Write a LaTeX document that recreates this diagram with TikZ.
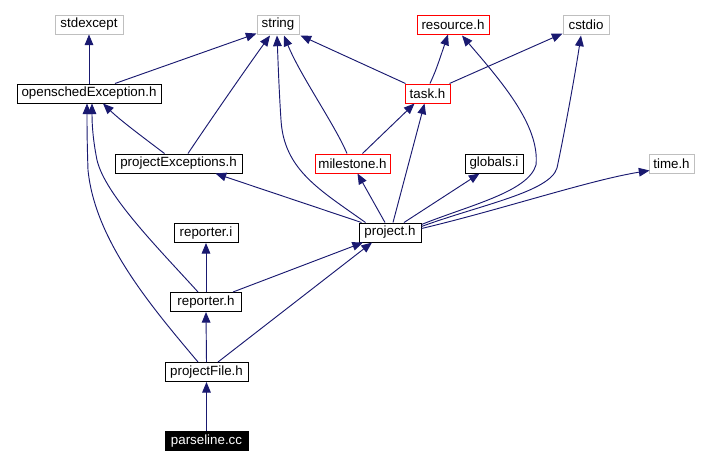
\documentclass[tikz,border=0pt]{standalone}
\usepackage{fontspec}
\setmainfont{Liberation Sans}
\usetikzlibrary{arrows.meta,calc}
\definecolor{edgeblue}{RGB}{25,25,112}
\definecolor{boxgray}{RGB}{191,191,191}
\definecolor{boxred}{RGB}{255,0,0}
\begin{document}
\begin{tikzpicture}[x=0.75pt,y=-0.75pt,
  hdr/.style={draw=black, line width=0.75pt, inner sep=0pt, minimum height=14.25pt,
    minimum width=#1*0.75pt, font=\fontsize{10}{12}\selectfont},
  sysbox/.style={hdr=#1, draw=boxgray},
  redbox/.style={hdr=#1, draw=boxred},
  rootbox/.style={hdr=#1, fill=black, text=white},
  dep/.style={draw=edgeblue, line width=0.7pt, -{Triangle[length=8pt,width=6.5pt]}, fill=none}]
\useasboundingbox (0,0) rectangle (708,465);
% nodes
\node[sysbox=68] (stdexcept) at (89,24.5) {stdexcept};
\node[sysbox=42] (string) at (278,24.5) {string};
\node[redbox=72] (resource) at (453,24.5) {resource.h};
\node[sysbox=46] (cstdio) at (586,24.5) {cstdio};
\node[hdr=144] (osE) at (89,93.5) {openschedException.h};
\node[redbox=45] (task) at (427.5,93.5) {task.h};
\node[hdr=127] (pExc) at (178.5,163.5) {projectExceptions.h};
\node[redbox=75] (milestone) at (352.5,163.5) {milestone.h};
\node[hdr=58] (globals) at (494,163.5) {globals.i};
\node[sysbox=45] (time) at (671.5,163.5) {time.h};
\node[hdr=62] (project) at (390,232.5) {project.h};
\node[hdr=64] (reporteri) at (206,233) {reporter.i};
\node[hdr=71] (reporterh) at (206,302) {reporter.h};
\node[hdr=83] (pFile) at (206.5,372) {projectFile.h};
\node[rootbox=83] (parseline) at (206.5,441) {parseline.cc};
% edges
\draw[dep] (osE.north) -- (stdexcept.south);
\draw[dep] ($(osE.north)+(26,0)$) -- ($(string.south west)+(0,-1)$);
\draw[dep] ($(task.north west)+(1,0)$) -- ($(string.south east)+(1,1)$);
\draw[dep] ($(task.north)+(2.5,0)$) .. controls (436,70) .. ($(resource.south)+(-5,0)$);
\draw[dep] ($(task.north east)+(-1,0)$) -- ($(cstdio.south west)+(0,-1)$);
\draw[dep] ($(pExc.north west)+(50,0)$) .. controls (140,135) and (120,120) .. ($(osE.south)+(14,0)$);
\draw[dep] ($(pExc.north)+(9.5,0)$) .. controls (205,128) and (245,70) .. ($(string.south)+(-8,1)$);
\draw[dep] ($(milestone.north)+(-5.5,0)$) .. controls (335,125) and (300,75) .. ($(string.south)+(6,1)$);
\draw[dep] ($(milestone.north)+(10,0)$) -- ($(task.south)+(-13,0)$);
\draw[dep] ($(project.north)+(3,0)$) -- ($(task.south)+(-3,0)$);
\draw[dep] ($(project.north)+(-5,0)$) -- ($(milestone.south)+(5,0)$);
\draw[dep] ($(project.north west)+(7,0)$) .. controls (320,190) and (284,170) .. (281,120) .. controls (279,90) and (278,60) .. ($(string.south)+(-1,1)$);
\draw[dep] ($(project.north west)+(3,0)$) -- ($(pExc.south)+(37,0)$);
\draw[dep] ($(project.north)+(14,0)$) -- ($(globals.south west)+(15,0)$);
\draw[dep] ($(project.east)+(0,-8)$) .. controls (470,205) and (528,192) .. (536,165) .. controls (540,125) and (500,80) .. ($(resource.south)+(9,1)$);
\draw[dep] ($(project.east)+(0,-6)$) .. controls (480,205) and (550,192) .. (557,168) .. controls (565,130) and (575,75) .. ($(cstdio.south)+(-5,1)$);
\draw[dep] ($(project.east)+(0,-4)$) .. controls (500,210) and (590,180) .. ($(time.south west)+(1,-3)$);
\draw[dep] (reporterh.north) -- (reporteri.south);
\draw[dep] ($(reporterh.north)+(27,0)$) -- ($(project.south)+(-27,0)$);
\draw[dep] ($(reporterh.north)+(-8,0)$) .. controls (160,250) and (105,195) .. (97,160) .. controls (93,140) and (92,125) .. ($(osE.south)+(3,0)$);
\draw[dep] (pFile.north) -- (reporterh.south);
\draw[dep] ($(pFile.north)+(11.5,0)$) -- ($(project.south)+(-18,0)$);
\draw[dep] ($(pFile.north)+(-8.5,0)$) .. controls (150,305) and (95,240) .. (88,170) .. controls (87,140) and (87,125) .. ($(osE.south)+(-2,0)$);
\draw[dep] (parseline.north) -- (pFile.south);
\end{tikzpicture}
\end{document}
